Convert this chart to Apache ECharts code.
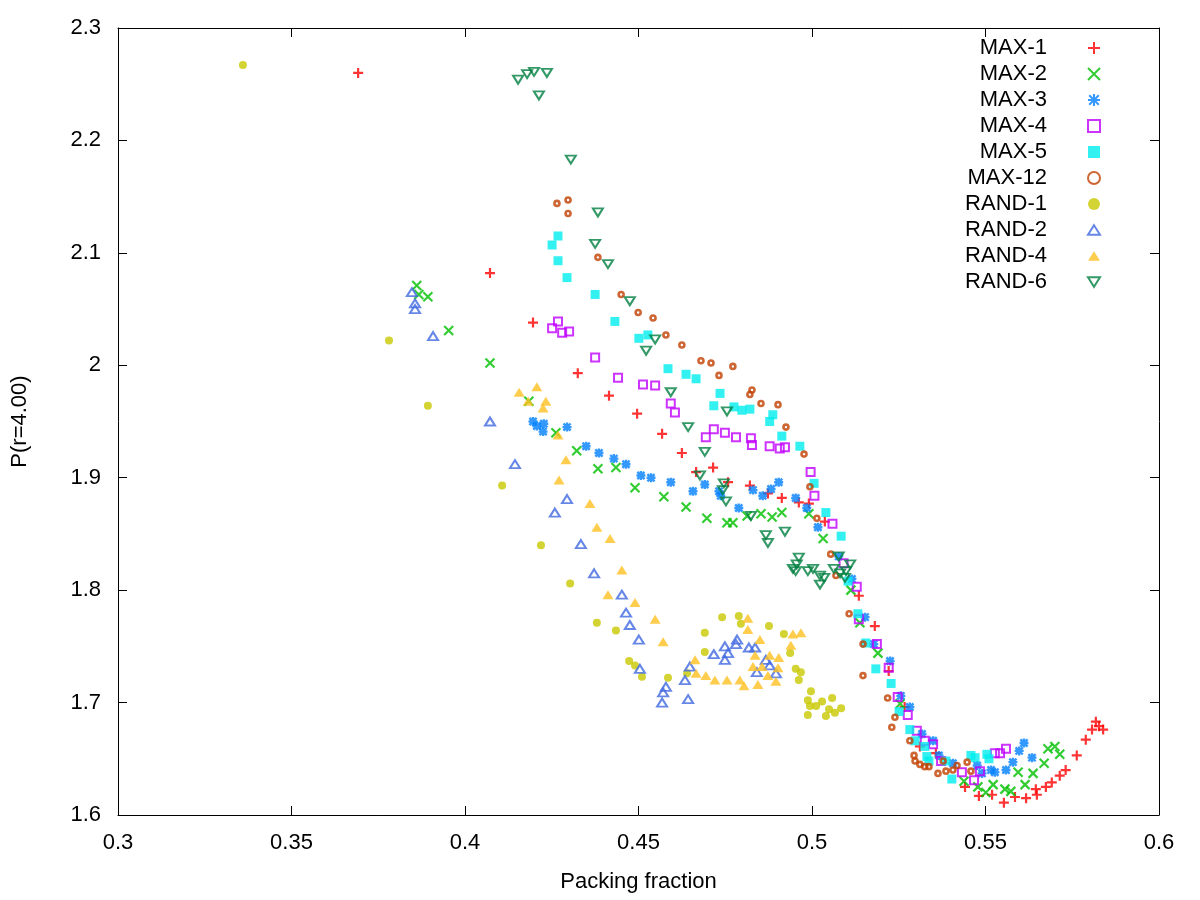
<!DOCTYPE html>
<html>
<head>
<meta charset="utf-8">
<title>P(r=4.00) vs packing fraction</title>
<script src="https://cdn.jsdelivr.net/npm/echarts@6/dist/echarts.min.js"></script>
<style>
    html, body { margin: 0; padding: 0; background: #fff; }
    #chart { width: 1200px; height: 900px; }
</style>
</head>
<body>
<div id="chart"></div>
<script>
// [packing fraction, P(r=4.00)]
const max1 = [
    [0.3692, 2.260], [0.4072, 2.082], [0.4196, 2.038], [0.4325, 1.993], [0.4415, 1.973],
    [0.4496, 1.957], [0.4568, 1.939], [0.4625, 1.922], [0.4666, 1.905], [0.4715, 1.909],
    [0.4758, 1.896], [0.4821, 1.893], [0.4873, 1.886], [0.4913, 1.882], [0.4962, 1.878],
    [0.4991, 1.877], [0.5037, 1.861], [0.5135, 1.795], [0.5181, 1.768], [0.5221, 1.728],
    [0.5267, 1.696], [0.5311, 1.661], [0.5357, 1.655], [0.5441, 1.625], [0.5481, 1.617],
    [0.5519, 1.618], [0.5553, 1.611], [0.5585, 1.616], [0.5617, 1.615], [0.5645, 1.623],
    [0.5648, 1.618], [0.5674, 1.625], [0.5691, 1.629], [0.5714, 1.635], [0.5731, 1.640],
    [0.5763, 1.653], [0.5789, 1.667], [0.5807, 1.676], [0.5818, 1.683], [0.5827, 1.679],
    [0.5839, 1.676]
]
const max2 = [
    [0.3861, 2.071], [0.3867, 2.063], [0.3893, 2.061], [0.3953, 2.031], [0.4072, 2.002],
    [0.4184, 1.968], [0.4262, 1.940], [0.4322, 1.924], [0.4383, 1.908], [0.4435, 1.909],
    [0.4490, 1.891], [0.4573, 1.883], [0.4637, 1.874], [0.4697, 1.864], [0.4755, 1.860],
    [0.4772, 1.860], [0.4813, 1.866], [0.4853, 1.868], [0.4885, 1.865], [0.4913, 1.869],
    [0.4991, 1.868], [0.5032, 1.846], [0.5112, 1.800], [0.5138, 1.771], [0.5190, 1.744],
    [0.5254, 1.699], [0.5438, 1.630], [0.5478, 1.625], [0.5501, 1.620], [0.5522, 1.627],
    [0.5556, 1.623], [0.5573, 1.621], [0.5594, 1.638], [0.5614, 1.627], [0.5637, 1.637],
    [0.5669, 1.646], [0.5680, 1.659], [0.5700, 1.661], [0.5714, 1.654]
]
const max3 = [
    [0.4196, 1.950], [0.4207, 1.946], [0.4227, 1.948], [0.4225, 1.941], [0.4294, 1.945],
    [0.4349, 1.928], [0.4386, 1.922], [0.4429, 1.917], [0.4464, 1.912], [0.4507, 1.902],
    [0.4536, 1.900], [0.4593, 1.896], [0.4657, 1.888], [0.4691, 1.894], [0.4732, 1.888],
    [0.4737, 1.884], [0.4789, 1.873], [0.4830, 1.889], [0.4858, 1.884], [0.4882, 1.890],
    [0.4904, 1.896], [0.4953, 1.882], [0.4985, 1.873], [0.5017, 1.856], [0.5077, 1.830],
    [0.5115, 1.810], [0.5153, 1.776], [0.5178, 1.752], [0.5225, 1.737], [0.5256, 1.706],
    [0.5282, 1.696], [0.5317, 1.672], [0.5349, 1.666], [0.5366, 1.653], [0.5406, 1.646],
    [0.5476, 1.644], [0.5490, 1.637], [0.5516, 1.640], [0.5527, 1.638], [0.5559, 1.640],
    [0.5579, 1.647], [0.5597, 1.657], [0.5611, 1.664], [0.5634, 1.651]
]
const max4 = [
    [0.4251, 2.033], [0.4268, 2.039], [0.4280, 2.029], [0.4300, 2.030], [0.4375, 2.007],
    [0.4441, 1.989], [0.4513, 1.983], [0.4548, 1.982], [0.4593, 1.966], [0.4605, 1.958],
    [0.4694, 1.936], [0.4717, 1.943], [0.4749, 1.940], [0.4781, 1.936], [0.4824, 1.935],
    [0.4827, 1.929], [0.4878, 1.928], [0.4907, 1.926], [0.4922, 1.927], [0.4996, 1.905],
    [0.5007, 1.884], [0.5059, 1.859], [0.5091, 1.824], [0.5129, 1.803], [0.5135, 1.774],
    [0.5187, 1.752], [0.5221, 1.731], [0.5247, 1.705], [0.5276, 1.689], [0.5302, 1.675],
    [0.5325, 1.666], [0.5349, 1.663], [0.5372, 1.648], [0.5432, 1.638], [0.5467, 1.631],
    [0.5484, 1.639], [0.5527, 1.655], [0.5542, 1.655], [0.5559, 1.659]
]
const max5 = [
    [0.4251, 2.107], [0.4268, 2.115], [0.4268, 2.093], [0.4294, 2.078], [0.4375, 2.063],
    [0.4432, 2.039], [0.4501, 2.024], [0.4527, 2.027], [0.4585, 1.997], [0.4637, 1.992],
    [0.4666, 1.988], [0.4717, 1.964], [0.4735, 1.975], [0.4775, 1.963], [0.4798, 1.960],
    [0.4821, 1.961], [0.4878, 1.950], [0.4887, 1.956], [0.4913, 1.937], [0.4965, 1.928],
    [0.5006, 1.895], [0.5040, 1.869], [0.5084, 1.848], [0.5104, 1.808], [0.5132, 1.779],
    [0.5155, 1.753], [0.5184, 1.730], [0.5228, 1.717], [0.5251, 1.692], [0.5282, 1.676],
    [0.5297, 1.666], [0.5325, 1.661], [0.5331, 1.652], [0.5337, 1.648], [0.5386, 1.648],
    [0.5403, 1.632], [0.5458, 1.653], [0.5470, 1.651], [0.5504, 1.654], [0.5510, 1.650]
]
const max12 = [
    [0.4265, 2.144], [0.4297, 2.147], [0.4297, 2.135], [0.4383, 2.096], [0.4450, 2.063],
    [0.4499, 2.047], [0.4542, 2.042], [0.4579, 2.027], [0.4625, 2.018], [0.4680, 2.004],
    [0.4709, 2.002], [0.4732, 1.991], [0.4772, 1.999], [0.4821, 1.974], [0.4827, 1.978],
    [0.4853, 1.966], [0.4902, 1.965], [0.4925, 1.945], [0.4977, 1.921], [0.4994, 1.892],
    [0.5014, 1.864], [0.5054, 1.832], [0.5069, 1.813], [0.5107, 1.779], [0.5147, 1.752],
    [0.5147, 1.724], [0.5218, 1.704], [0.5239, 1.687], [0.5230, 1.678], [0.5282, 1.666],
    [0.5294, 1.653], [0.5297, 1.648], [0.5311, 1.645], [0.5325, 1.643], [0.5337, 1.643],
    [0.5363, 1.637], [0.5378, 1.648], [0.5386, 1.639], [0.5406, 1.640], [0.5418, 1.644],
    [0.5447, 1.647], [0.5458, 1.639]
]
const rand1 = [
    [0.3360, 2.267], [0.3781, 2.022], [0.3893, 1.964], [0.4107, 1.893], [0.4219, 1.840],
    [0.4303, 1.806], [0.4380, 1.771], [0.4435, 1.764], [0.4473, 1.737], [0.4490, 1.733],
    [0.4510, 1.723], [0.4585, 1.722], [0.4640, 1.726], [0.4691, 1.762], [0.4691, 1.745],
    [0.4741, 1.776], [0.4789, 1.777], [0.4795, 1.770], [0.4876, 1.768], [0.4919, 1.761],
    [0.4937, 1.744], [0.4953, 1.730], [0.4968, 1.727], [0.4962, 1.720], [0.4997, 1.710],
    [0.4988, 1.702], [0.5029, 1.701], [0.5058, 1.704], [0.5012, 1.697], [0.4994, 1.697],
    [0.5049, 1.694], [0.5040, 1.688], [0.5066, 1.691], [0.5084, 1.695], [0.4988, 1.689]
]
const rand2 = [
    [0.3847, 2.065], [0.3856, 2.055], [0.3856, 2.050], [0.3908, 2.026], [0.4072, 1.950],
    [0.4144, 1.912], [0.4259, 1.869], [0.4294, 1.881], [0.4334, 1.841], [0.4372, 1.815],
    [0.4452, 1.796], [0.4464, 1.780], [0.4475, 1.769], [0.4501, 1.756], [0.4504, 1.730],
    [0.4568, 1.700], [0.4571, 1.709], [0.4579, 1.714], [0.4634, 1.720], [0.4643, 1.703],
    [0.4648, 1.732], [0.4717, 1.743], [0.4749, 1.750], [0.4758, 1.744], [0.4749, 1.738],
    [0.4784, 1.756], [0.4781, 1.752], [0.4818, 1.749], [0.4836, 1.749], [0.4841, 1.727],
    [0.4867, 1.738], [0.4878, 1.733], [0.4896, 1.726]
]
const rand4 = [
    [0.4156, 1.976], [0.4207, 1.981], [0.4182, 1.968], [0.4233, 1.968], [0.4225, 1.962],
    [0.4268, 1.938], [0.4291, 1.916], [0.4271, 1.898], [0.4360, 1.877], [0.4380, 1.856],
    [0.4418, 1.846], [0.4452, 1.818], [0.4412, 1.796], [0.4490, 1.789], [0.4548, 1.774],
    [0.4571, 1.754], [0.4663, 1.738], [0.4666, 1.726], [0.4694, 1.724], [0.4720, 1.720],
    [0.4755, 1.720], [0.4792, 1.720], [0.4804, 1.715], [0.4844, 1.716], [0.4815, 1.775],
    [0.4815, 1.765], [0.4850, 1.756], [0.4836, 1.742], [0.4830, 1.732], [0.4856, 1.732],
    [0.4878, 1.742], [0.4904, 1.740], [0.4902, 1.731], [0.4873, 1.724], [0.4896, 1.719],
    [0.4939, 1.751], [0.4945, 1.761], [0.4968, 1.762]
]
const rand6 = [
    [0.4153, 2.254], [0.4179, 2.259], [0.4199, 2.261], [0.4236, 2.260], [0.4213, 2.240],
    [0.4305, 2.183], [0.4383, 2.136], [0.4375, 2.108], [0.4412, 2.090], [0.4475, 2.057],
    [0.4522, 2.013], [0.4548, 2.023], [0.4593, 1.976], [0.4643, 1.945], [0.4677, 1.902],
    [0.4691, 1.923], [0.4746, 1.895], [0.4743, 1.889], [0.4752, 1.879], [0.4755, 1.959],
    [0.4824, 1.866], [0.4867, 1.849], [0.4873, 1.842], [0.4922, 1.852], [0.4945, 1.819],
    [0.4953, 1.817], [0.4956, 1.823], [0.4962, 1.829], [0.4988, 1.817], [0.5003, 1.819],
    [0.5023, 1.813], [0.5035, 1.811], [0.5023, 1.805], [0.5063, 1.819], [0.5077, 1.830],
    [0.5081, 1.815], [0.5095, 1.811], [0.5098, 1.817], [0.5110, 1.823]
]

const xTicks = [0.3, 0.6, 0.05]
const yTicks = [1.6, 2.3, 0.1]

const FONT = 'Liberation Sans'
const PLUS = 'path://M0,5H10M5,0V10'
const CROSS = 'path://M0,0L10,10M0,10L10,0'
const STAR = 'path://M0,5H10M5,0V10M1,1L9,9M1,9L9,1'
const TRI_UP = 'path://M5,0L10,8L0,8Z'
const TRI_DOWN = 'path://M0,0L10,0L5,8Z'

function strokeSeries(name, data, symbol, size, color, width) {
    return {
        name, data, symbol, symbolSize: size, type: 'scatter',
        itemStyle: { color: 'transparent', borderColor: color, borderWidth: width || 2 }
    }
}

function fillSeries(name, data, symbol, size, color) {
    return {
        name, data, symbol, symbolSize: size, type: 'scatter',
        itemStyle: { color: color }
    }
}

const series = [
    strokeSeries('MAX-1', max1, PLUS, 10, '#ff0000', 2.2),
    strokeSeries('MAX-2', max2, CROSS, 9, '#00c000', 2.2),
    strokeSeries('MAX-3', max3, STAR, 9, '#0080ff', 2.4),
    strokeSeries('MAX-4', max4, 'rect', 8, '#c000ff'),
    fillSeries('MAX-5', max5, 'rect', 9, '#00eeee'),
    strokeSeries('MAX-12', max12, 'circle', 5, '#c04000', 2.6),
    fillSeries('RAND-1', rand1, 'circle', 8, '#c8c800'),
    strokeSeries('RAND-2', rand2, TRI_UP, [10, 8], '#4169e1'),
    fillSeries('RAND-4', rand4, TRI_UP, [11, 9], '#ffc020'),
    strokeSeries('RAND-6', rand6, TRI_DOWN, [10, 8], '#008040')
]
series.forEach(s => {
    s.xAxisIndex = 0
    s.yAxisIndex = 0
    s.emphasis = { disabled: true }
})

function fmt(v) {
    return String(parseFloat(v.toFixed(2)))
}

function valueAxis(range, position, showLabel, extra) {
    return Object.assign({
        type: 'value',
        position,
        min: range[0],
        max: range[1],
        interval: range[2],
        axisLine: { show: true, onZero: false, lineStyle: { color: '#000', width: 1 } },
        axisTick: { show: true, inside: true, length: 9, lineStyle: { color: '#000' } },
        axisLabel: {
            show: showLabel, formatter: fmt, margin: 17,
            color: '#000', fontSize: 22, fontFamily: FONT
        },
        splitLine: { show: false }
    }, extra || {})
}

const chart = echarts.init(document.getElementById('chart'), null, { renderer: 'canvas' })

chart.setOption({
    animation: false,
    backgroundColor: '#fff',
    grid: { left: 118, right: 41, top: 28, bottom: 85 },
    xAxis: [
        valueAxis(xTicks, 'bottom', true, {
            name: 'Packing fraction', nameLocation: 'middle', nameGap: 56,
            nameTextStyle: { color: '#000', fontSize: 22, fontFamily: FONT }
        }),
        valueAxis(xTicks, 'top', false)
    ],
    yAxis: [
        valueAxis(yTicks, 'left', true, {
            name: 'P(r=4.00)', nameLocation: 'middle', nameGap: 87,
            nameTextStyle: { color: '#000', fontSize: 22, fontFamily: FONT }
        }),
        valueAxis(yTicks, 'right', false)
    ],
    legend: {
        orient: 'vertical',
        align: 'right',
        right: 99,
        top: 37,
        padding: 0,
        itemGap: 4,
        itemWidth: 12,
        itemHeight: 12,
        selectedMode: false,
        textStyle: { color: '#000', fontSize: 22, fontFamily: FONT, padding: [0, 36, 0, 0] },
        data: series.map(s => s.name)
    },
    series
})
</script>
</body>
</html>
